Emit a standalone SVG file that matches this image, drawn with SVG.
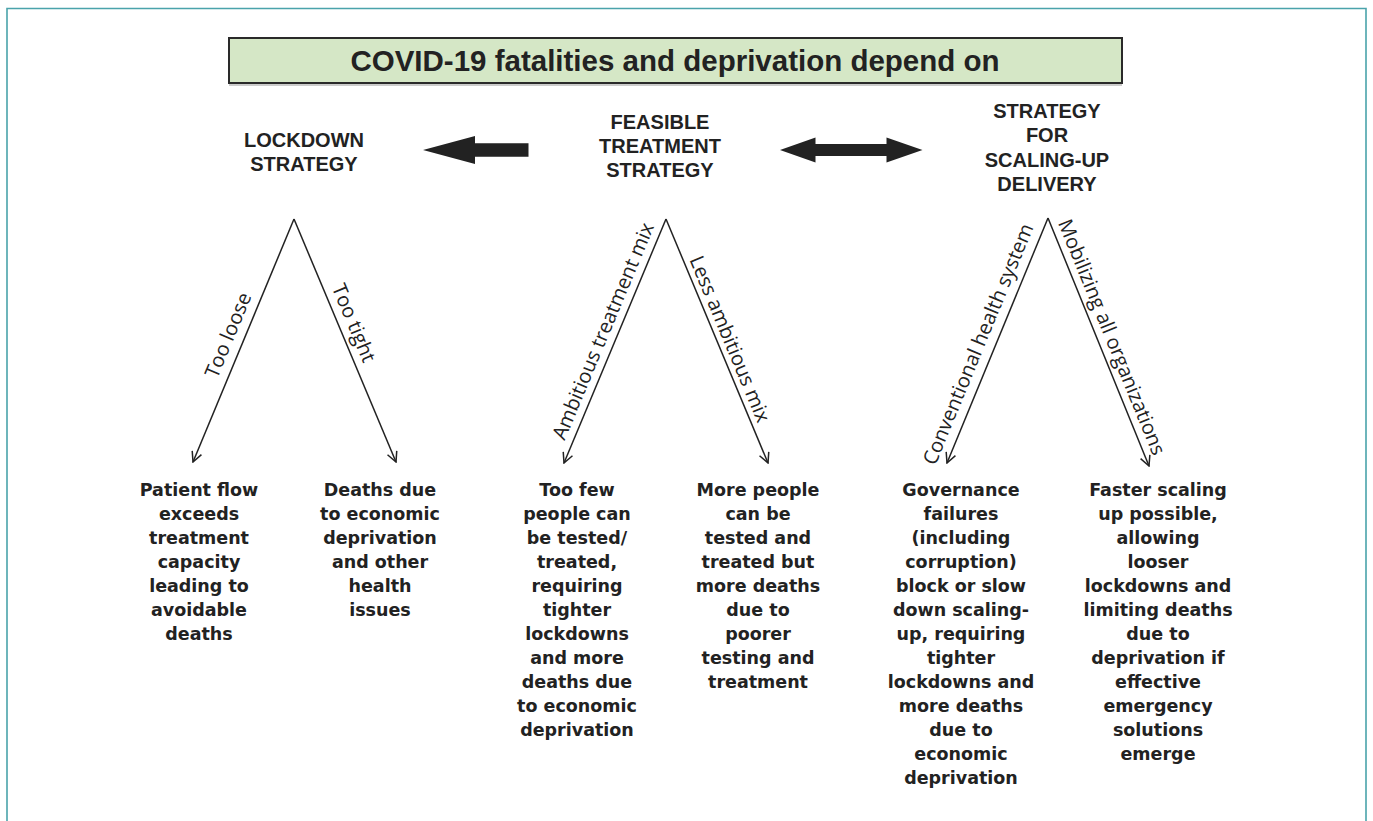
<svg xmlns="http://www.w3.org/2000/svg" width="1373" height="821" viewBox="0 0 1373 821">
<style>
.frame{fill:none;stroke:#4aa3ab;stroke-width:1.6}
.title{font-family:"Liberation Sans",Arial,sans-serif;font-weight:bold;font-size:29.5px;fill:#222;text-anchor:middle}
.head{font-family:"Liberation Sans",Arial,sans-serif;font-weight:bold;font-size:20px;fill:#222;text-anchor:middle}
.body{font-family:"DejaVu Sans",Verdana,sans-serif;font-weight:bold;font-size:17.5px;fill:#222;text-anchor:middle}
.lbl{font-family:"Open Sans",sans-serif;font-size:20px;fill:#222;text-anchor:middle}
.edge{stroke:#222;stroke-width:1.5;fill:none;marker-end:url(#open)}
.blk{fill:#222}
</style>
<defs>
<marker id="open" viewBox="0 0 12 12" refX="11" refY="6" markerWidth="12" markerHeight="12" markerUnits="userSpaceOnUse" orient="auto">
<path d="M1,1 L11,6 L1,11" fill="none" stroke="#222" stroke-width="1.5"/>
</marker>
</defs>
<rect width="1373" height="821" fill="#fff"/>
<path class="frame" d="M7,821 V8.5 H1366 V821"/>

<g id="title">
<rect x="229" y="38" width="893" height="45" fill="#d5e7c6" stroke="#2a2a2a" stroke-width="2"/>
<line x1="229" y1="85" x2="1122" y2="85" stroke="#999" stroke-width="1"/>
<text class="title" x="675" y="71">COVID-19 fatalities and deprivation depend on</text>
</g>

<g id="lockdown">
<text class="head" x="304" y="147">LOCKDOWN</text>
<text class="head" x="304" y="171">STRATEGY</text>
</g>
<g id="treatment">
<text class="head" x="660" y="129">FEASIBLE</text>
<text class="head" x="660" y="153">TREATMENT</text>
<text class="head" x="660" y="177">STRATEGY</text>
</g>
<g id="scaling">
<text class="head" x="1047" y="118">STRATEGY</text>
<text class="head" x="1047" y="142">FOR</text>
<text class="head" x="1047" y="167">SCALING-UP</text>
<text class="head" x="1047" y="191">DELIVERY</text>
</g>

<g id="connectors">
<polygon class="blk" points="423,150 475,136 475,143.3 528.5,143.3 528.5,156.7 475,156.7 475,164"/>
<polygon class="blk" points="780,150 815.5,137.5 815.5,144 886.5,144 886.5,137.5 922.5,150 886.5,162.5 886.5,156 815.5,156 815.5,162.5"/>
<line class="edge" x1="294" y1="219" x2="193" y2="462"/>
<line class="edge" x1="294" y1="219" x2="396" y2="462"/>
<line class="edge" x1="666" y1="219" x2="564" y2="463"/>
<line class="edge" x1="666" y1="219" x2="768" y2="463"/>
<line class="edge" x1="1048" y1="218" x2="947" y2="463"/>
<line class="edge" x1="1048" y1="218" x2="1149" y2="466"/>
<text class="lbl" x="228" y="335" dy="0.35em" transform="rotate(-67.4 228 335)">Too loose</text>
<text class="lbl" x="354" y="323" dy="0.35em" transform="rotate(67.2 354 323)">Too tight</text>
<text class="lbl" x="603" y="331" dy="0.35em" transform="rotate(-67.3 603 331)">Ambitious treatment mix</text>
<text class="lbl" x="730" y="339" dy="0.35em" transform="rotate(67.3 730 339)">Less ambitious mix</text>
<text class="lbl" x="978" y="344" dy="0.35em" transform="rotate(-67.6 978 344)">Conventional health system</text>
<text class="lbl" x="1112" y="337" dy="0.35em" font-size="19" transform="rotate(67.8 1112 337)">Mobilizing all organizations</text>
</g>

<g id="out1">
<text class="body" x="199" y="496">Patient flow</text>
<text class="body" x="199" y="520">exceeds</text>
<text class="body" x="199" y="544">treatment</text>
<text class="body" x="199" y="568">capacity</text>
<text class="body" x="199" y="592">leading to</text>
<text class="body" x="199" y="616">avoidable</text>
<text class="body" x="199" y="640">deaths</text>
</g>
<g id="out2">
<text class="body" x="380" y="496">Deaths due</text>
<text class="body" x="380" y="520">to economic</text>
<text class="body" x="380" y="544">deprivation</text>
<text class="body" x="380" y="568">and other</text>
<text class="body" x="380" y="592">health</text>
<text class="body" x="380" y="616">issues</text>
</g>
<g id="out3">
<text class="body" x="577" y="496">Too few</text>
<text class="body" x="577" y="520">people can</text>
<text class="body" x="577" y="544">be tested/</text>
<text class="body" x="577" y="568">treated,</text>
<text class="body" x="577" y="592">requiring</text>
<text class="body" x="577" y="616">tighter</text>
<text class="body" x="577" y="640">lockdowns</text>
<text class="body" x="577" y="664">and more</text>
<text class="body" x="577" y="688">deaths due</text>
<text class="body" x="577" y="712">to economic</text>
<text class="body" x="577" y="736">deprivation</text>
</g>
<g id="out4">
<text class="body" x="758" y="496">More people</text>
<text class="body" x="758" y="520">can be</text>
<text class="body" x="758" y="544">tested and</text>
<text class="body" x="758" y="568">treated but</text>
<text class="body" x="758" y="592">more deaths</text>
<text class="body" x="758" y="616">due to</text>
<text class="body" x="758" y="640">poorer</text>
<text class="body" x="758" y="664">testing and</text>
<text class="body" x="758" y="688">treatment</text>
</g>
<g id="out5">
<text class="body" x="961" y="496">Governance</text>
<text class="body" x="961" y="520">failures</text>
<text class="body" x="961" y="544">(including</text>
<text class="body" x="961" y="568">corruption)</text>
<text class="body" x="961" y="592">block or slow</text>
<text class="body" x="961" y="616">down scaling-</text>
<text class="body" x="961" y="640">up, requiring</text>
<text class="body" x="961" y="664">tighter</text>
<text class="body" x="961" y="688">lockdowns and</text>
<text class="body" x="961" y="712">more deaths</text>
<text class="body" x="961" y="736">due to</text>
<text class="body" x="961" y="760">economic</text>
<text class="body" x="961" y="784">deprivation</text>
</g>
<g id="out6">
<text class="body" x="1158" y="496">Faster scaling</text>
<text class="body" x="1158" y="520">up possible,</text>
<text class="body" x="1158" y="544">allowing</text>
<text class="body" x="1158" y="568">looser</text>
<text class="body" x="1158" y="592">lockdowns and</text>
<text class="body" x="1158" y="616">limiting deaths</text>
<text class="body" x="1158" y="640">due to</text>
<text class="body" x="1158" y="664">deprivation if</text>
<text class="body" x="1158" y="688">effective</text>
<text class="body" x="1158" y="712">emergency</text>
<text class="body" x="1158" y="736">solutions</text>
<text class="body" x="1158" y="760">emerge</text>
</g>
</svg>
